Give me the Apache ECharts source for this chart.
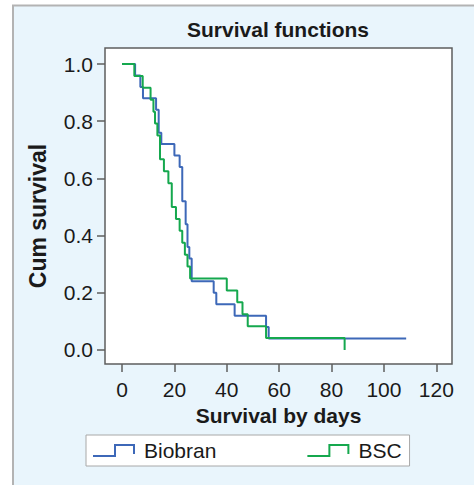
<!DOCTYPE html>
<html>
<head>
<meta charset="utf-8">
<script src="https://cdn.jsdelivr.net/npm/echarts@6/dist/echarts.min.js"></script>
<style>
html,body{margin:0;padding:0;background:#fff;}
#chart{width:474px;height:485px;}
</style>
</head>
<body>
<div id="chart"></div>
<script>
// Kaplan-Meier step data
var biobranDays = [0, 5, 7, 8, 13, 14, 15, 20, 22, 23, 24.3, 25, 25.7, 26.6, 35, 36, 43, 55, 56, 108.5];
var biobranSurv = [1, 0.96, 0.92, 0.88, 0.84, 0.76, 0.72, 0.68, 0.64, 0.52, 0.44, 0.36, 0.32, 0.24, 0.20, 0.16, 0.12, 0.08, 0.04, 0.04];
var bscDays = [0, 4.7, 7.9, 10.9, 12, 12.6, 13.5, 14.5, 16, 17.7, 19, 20.6, 22, 23, 24, 25, 26, 40, 44, 46, 48, 55, 85];
var bscSurv = [1, 0.958, 0.917, 0.875, 0.833, 0.792, 0.75, 0.667, 0.625, 0.583, 0.5, 0.458, 0.417, 0.375, 0.333, 0.292, 0.25, 0.208, 0.167, 0.125, 0.083, 0.042, 0];
var xTicks = [0, 20, 40, 60, 80, 100, 120];
var yTicks = [0, 0.2, 0.4, 0.6, 0.8, 1.0];
var seriesNames = ['Biobran', 'BSC'];

function pairs(xs, ys) { return xs.map(function (x, i) { return [x, ys[i]]; }); }

var FONT = '"Liberation Sans", Arial, sans-serif';
var stepIcon = 'path://M0,11 L21,11 L21,0 L42,0 L42,10 L40,10 L40,2 L23,2 L23,13 L0,13 Z';

var chart = echarts.init(document.getElementById('chart'), null, {renderer: 'svg'});
chart.setOption({
  backgroundColor: '#ffffff',
  animation: false,
  graphic: [{
    type: 'rect', z: -10, silent: true,
    shape: {x: 13, y: 5.5, width: 480, height: 500},
    style: {fill: '#e9f5fc', stroke: '#b3b3b3', lineWidth: 2}
  }],
  title: {
    text: 'Survival functions',
    left: 187, top: 19, padding: 0,
    textStyle: {fontFamily: FONT, fontSize: 21, fontWeight: 'bold', color: '#1a1a1a'}
  },
  legend: {
    data: seriesNames.map(function (n) { return {name: n, icon: stepIcon}; }),
    left: 86, top: 435,
    orient: 'horizontal',
    itemWidth: 42, itemHeight: 13, itemGap: 91,
    backgroundColor: '#ffffff', borderColor: '#a8a8a8', borderWidth: 1, borderRadius: 0,
    padding: [5, 8, 5, 7],
    selectedMode: false,
    textStyle: {fontFamily: FONT, fontSize: 21, color: '#1a1a1a', padding: [0, 0, 0, 4]}
  },
  grid: {
    left: 105, top: 48, width: 347, height: 316,
    show: true, backgroundColor: '#ffffff', borderColor: '#5e5e5e', borderWidth: 1.5,
    containLabel: false
  },
  xAxis: {
    type: 'value', min: -6.5, max: 126,
    name: 'Survival by days', nameLocation: 'middle', nameGap: 41,
    nameTextStyle: {fontFamily: FONT, fontSize: 21, fontWeight: 'bold', color: '#1a1a1a'},
    axisLine: {show: false, onZero: false},
    axisTick: {show: true, inside: false, length: 8, customValues: xTicks, lineStyle: {color: '#5e5e5e', width: 1.5}},
    axisLabel: {customValues: xTicks, margin: 15, fontFamily: FONT, fontSize: 21, color: '#1a1a1a'},
    splitLine: {show: false}
  },
  yAxis: {
    type: 'value', min: -0.049, max: 1.056,
    name: 'Cum survival', nameLocation: 'middle', nameRotate: 90, nameGap: 56,
    nameTextStyle: {fontFamily: FONT, fontSize: 23, fontWeight: 'bold', color: '#1a1a1a', padding: [0, 20, 0, 0]},
    axisLine: {show: false, onZero: false},
    axisTick: {show: true, inside: false, length: 8, customValues: yTicks, lineStyle: {color: '#5e5e5e', width: 1.5}},
    axisLabel: {customValues: yTicks, margin: 12, fontFamily: FONT, fontSize: 21, color: '#1a1a1a',
      formatter: function (v) { return v.toFixed(1); }},
    splitLine: {show: false}
  },
  series: [{
    name: seriesNames[0], type: 'line', step: 'end', symbol: 'none', showSymbol: false,
    data: pairs(biobranDays, biobranSurv),
    color: '#3d68b8', lineStyle: {width: 2, color: '#3d68b8'}
  }, {
    name: seriesNames[1], type: 'line', step: 'end', symbol: 'none', showSymbol: false,
    data: pairs(bscDays, bscSurv),
    color: '#15a84e', lineStyle: {width: 2, color: '#15a84e'}
  }]
});
</script>
</body>
</html>
